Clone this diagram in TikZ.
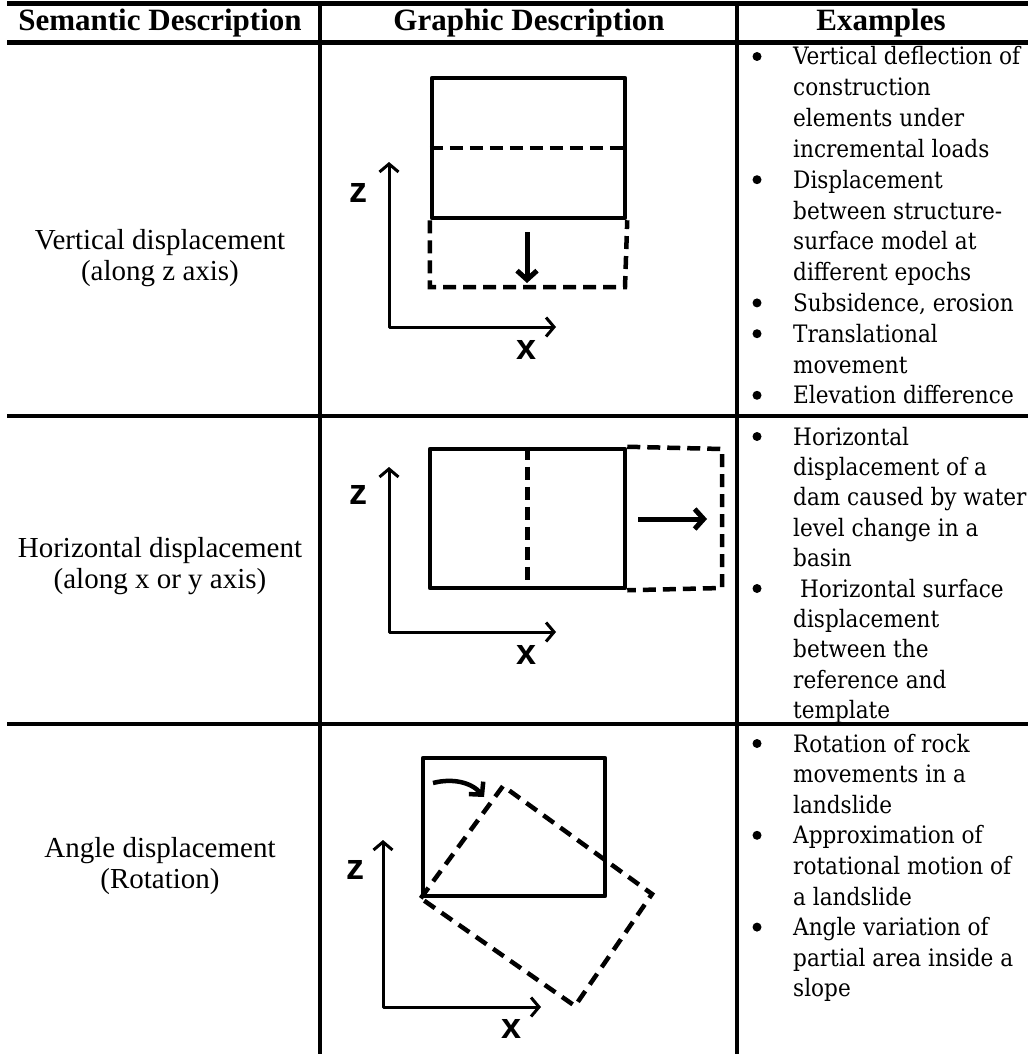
\documentclass[tikz,border=0pt]{standalone}
\usepackage{fontspec}
\setmainfont{Liberation Serif}
\newfontfamily\exfamily{DejaVu Serif Condensed}
\newfontfamily\axfamily{Liberation Sans}
\usetikzlibrary{arrows.meta}

\begin{document}
\begin{tikzpicture}[x=1pt,y=-1pt,
  thinrule/.style={line width=3.5pt},
  thickrule/.style={line width=5pt},
  hdr/.style={font=\fontsize{31}{36}\selectfont\bfseries, inner sep=0pt},
  sem/.style={font=\fontsize{29}{31}\selectfont, align=center, inner sep=0pt},
  ex/.style={font=\exfamily\fontsize{24}{30}\selectfont, anchor=base west, inner sep=0pt, yshift=-7pt},
  dot/.style={circle, fill, inner sep=0pt, minimum size=9pt, yshift=1.5pt},
  solidbox/.style={draw, line width=4.5pt, inner sep=0pt, line join=round},
  dashbox/.style={line width=4.5pt, dash pattern=on 13pt off 7pt},
  axis/.style={line width=3pt, line join=round, {Straight Barb[length=8pt,width=19pt]}-{Straight Barb[length=8pt,width=19pt]}},
  motion/.style={line width=5pt, -{Straight Barb[length=9pt,width=20pt]}},
  axlabel/.style={font=\axfamily\bfseries\fontsize{36}{36}\selectfont, inner sep=0pt}
]
\useasboundingbox (0,0) rectangle (1028,1054);

% ---- table rules ----
\draw[thickrule] (7,4) -- (1028,4);
\draw[thickrule] (7,43) -- (1028,43);
\draw[thinrule] (7,416) -- (1028,416);
\draw[thinrule] (7,724) -- (1028,724);
\draw[thinrule] (320,2) -- (320,1054);
\draw[thinrule] (737,2) -- (737,1054);

% ---- header ----
\node[hdr] (h1) at (160,23) {Semantic Description};
\node[hdr] (h2) at (529,23) {Graphic Description};
\node[hdr] (h3) at (881,23) {Examples};

% ---- semantic descriptions ----
\node[sem] (s1) at (160,258) {Vertical displacement\\(along z axis)};
\node[sem] (s2) at (160,566) {Horizontal displacement\\(along x or y axis)};
\node[sem] (s3) at (160,866) {Angle displacement\\(Rotation)};

% ---- row 1: vertical displacement ----
\node[solidbox, minimum width=193pt, minimum height=140pt] (r1) at (528.5,148) {};
\draw[dashbox] (r1.west) -- (r1.east);
\coordinate (r1b) at (625,287);
\draw[dashbox] (r1.south west) |- (r1b) -- (r1.south east);
\coordinate (d1s) at (527,232);
\coordinate (d1e) at (527,283);
\draw[motion] (d1s) -- (d1e);
\coordinate (z1) at (389,162);
\coordinate (o1) at (389,327);
\coordinate (x1) at (556,327);
\draw[axis] (z1) -- (o1) -- (x1);
\node[axlabel] (zl1) at (358,193) {z};
\node[axlabel] (xl1) at (527,350) {x};

% ---- row 2: horizontal displacement ----
\node[solidbox, minimum width=195pt, minimum height=139pt] (r2) at (527.5,518.5) {};
\draw[dashbox] (r2.north) -- (r2.south);
\coordinate (r2a) at (722,449);
\coordinate (r2b) at (722,588);
\draw[dashbox] (r2.north east) -- (r2a) -- (r2b) -- (r2.south east);
\coordinate (d2s) at (638,519);
\coordinate (d2e) at (707,519);
\draw[motion] (d2s) -- (d2e);
\coordinate (z2) at (389,467);
\coordinate (o2) at (389,632);
\coordinate (x2) at (556,632);
\draw[axis] (z2) -- (o2) -- (x2);
\node[axlabel] (zl2) at (358,495) {z};
\node[axlabel] (xl2) at (527,655) {x};

% ---- row 3: rotation ----
\node[solidbox, minimum width=182pt, minimum height=138pt] (r3) at (514,827) {};
\coordinate (qt) at (503,786);
\coordinate (qr) at (652,894);
\coordinate (qb) at (575,1006);
\draw[dashbox, dash pattern=on 13pt off 8pt] (r3.south west) -- (qt) -- (qr) -- (qb) -- cycle;
\coordinate (c3s) at (433,783);
\coordinate (c3e) at (484,797);
\draw[line width=4.5pt, -{Straight Barb[length=9pt,width=19pt]}] (c3s) .. controls (452,778) and (471,782) .. (c3e);
\coordinate (z3) at (383,840);
\coordinate (o3) at (383,1007);
\coordinate (x3) at (541,1007);
\draw[axis] (z3) -- (o3) -- (x3);
\node[axlabel] (zl3) at (355,870) {z};
\node[axlabel] (xl3) at (512,1029) {x};

% ---- examples, row 1 ----
\node[dot] (b11) at (757,58) {};
\node[ex] (e101) at (793,58.0) {Vertical deflection of};
\node[ex] (e102) at (793,88.8) {construction};
\node[ex] (e103) at (793,119.6) {elements under};
\node[ex] (e104) at (793,150.4) {incremental loads};
\node[dot] (b12) at (757,181.2) {};
\node[ex] (e105) at (793,181.2) {Displacement};
\node[ex] (e106) at (793,212.0) {between structure-};
\node[ex] (e107) at (793,242.8) {surface model at};
\node[ex] (e108) at (793,273.6) {different epochs};
\node[dot] (b13) at (757,304.4) {};
\node[ex] (e109) at (793,304.4) {Subsidence, erosion};
\node[dot] (b14) at (757,335.2) {};
\node[ex] (e110) at (793,335.2) {Translational};
\node[ex] (e111) at (793,366.0) {movement};
\node[dot] (b15) at (757,396.8) {};
\node[ex] (e112) at (793,396.8) {Elevation difference};

% ---- examples, row 2 ----
\node[dot] (b21) at (757,438) {};
\node[ex] (e201) at (793,438.0) {Horizontal};
\node[ex] (e202) at (793,468.4) {displacement of a};
\node[ex] (e203) at (793,498.8) {dam caused by water};
\node[ex] (e204) at (793,529.2) {level change in a};
\node[ex] (e205) at (793,559.6) {basin};
\node[dot] (b22) at (757,590) {};
\node[ex] (e206) at (793,590.0) {\ Horizontal surface};
\node[ex] (e207) at (793,620.4) {displacement};
\node[ex] (e208) at (793,650.8) {between the};
\node[ex] (e209) at (793,681.2) {reference and};
\node[ex] (e210) at (793,711.6) {template};

% ---- examples, row 3 ----
\node[dot] (b31) at (757,745) {};
\node[ex] (e301) at (793,745.0) {Rotation of rock};
\node[ex] (e302) at (793,775.6) {movements in a};
\node[ex] (e303) at (793,806.2) {landslide};
\node[dot] (b32) at (757,836.8) {};
\node[ex] (e304) at (793,836.8) {Approximation of};
\node[ex] (e305) at (793,867.4) {rotational motion of};
\node[ex] (e306) at (793,898.0) {a landslide};
\node[dot] (b33) at (757,928.6) {};
\node[ex] (e307) at (793,928.6) {Angle variation of};
\node[ex] (e308) at (793,959.2) {partial area inside a};
\node[ex] (e309) at (793,989.8) {slope};
\end{tikzpicture}
\end{document}
